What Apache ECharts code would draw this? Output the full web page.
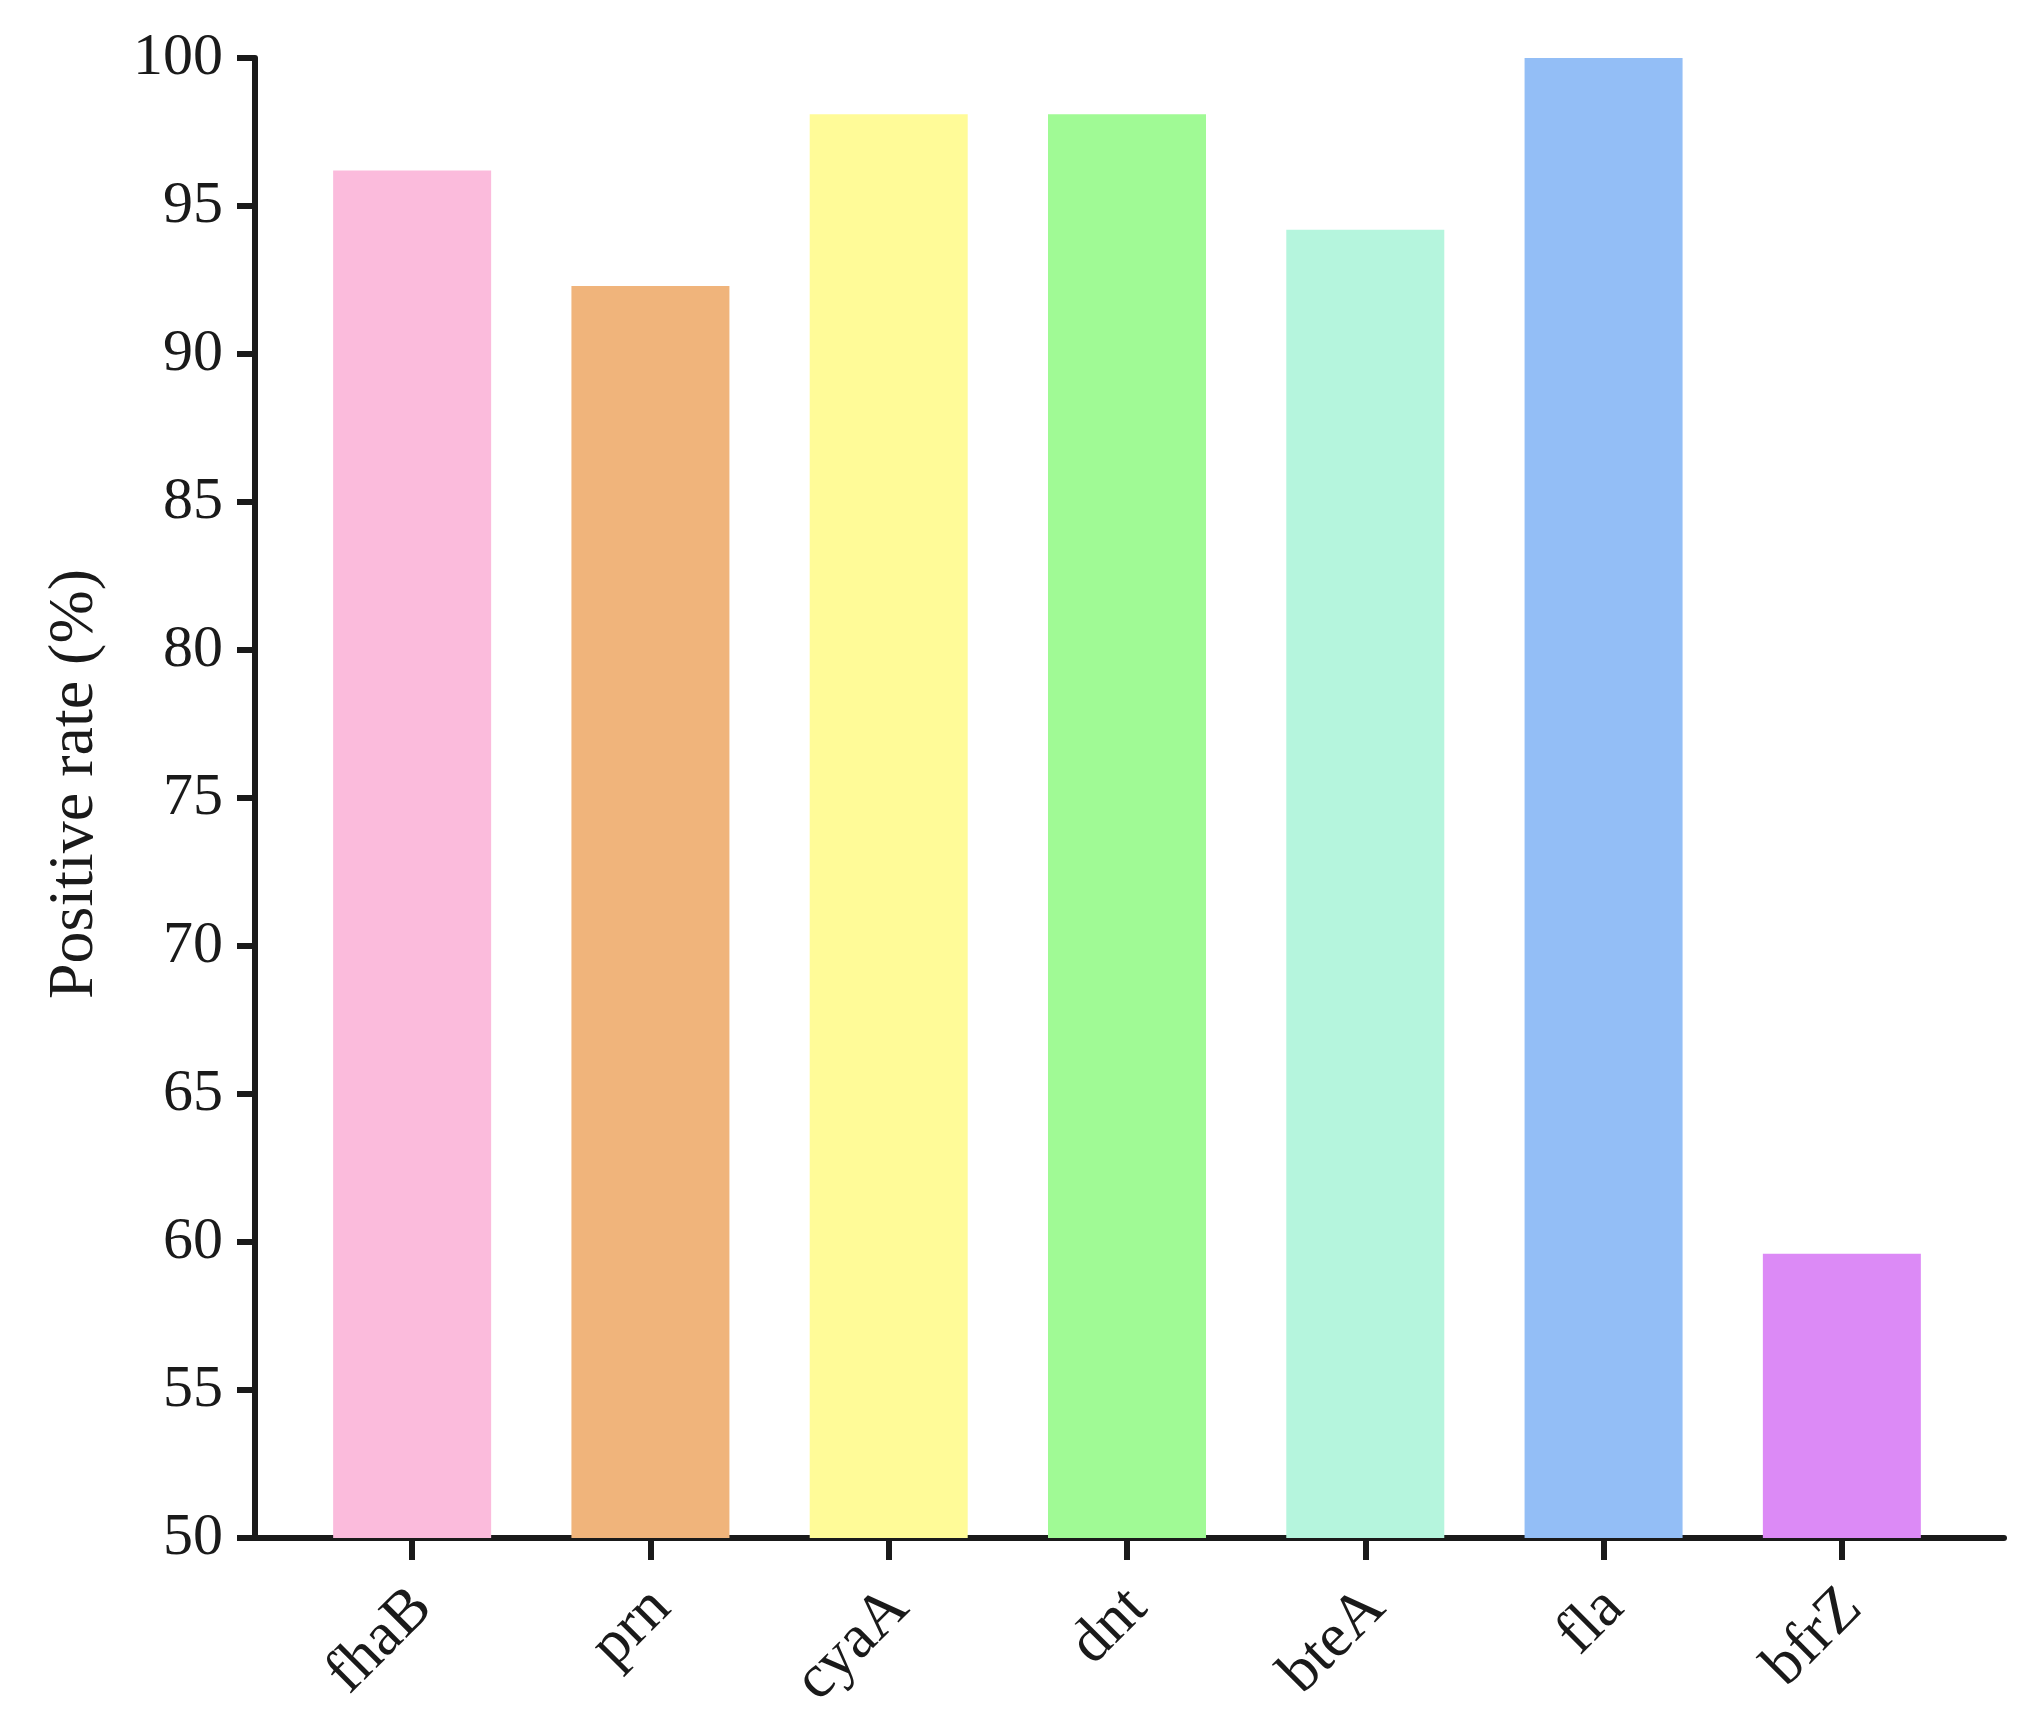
<!DOCTYPE html>
<html>
<head>
    <meta charset="utf-8">
    <title>Positive rate</title>
    <script src="https://cdn.jsdelivr.net/npm/echarts@6/dist/echarts.min.js"></script>
    <style>
        html, body { margin: 0; padding: 0; background: #fff; }
        #main { width: 2030px; height: 1735px; }
    </style>
</head>
<body>
<div id="main"></div>
<script type="text/javascript">
    // gene names and positive rates (%)
    var genes = ['fhaB', 'prn', 'cyaA', 'dnt', 'bteA', 'fla', 'bfrZ'];
    var rates = [96.2, 92.3, 98.1, 98.1, 94.2, 100, 59.6];
    var barColors = ['#FBBBDC', '#F0B47B', '#FFFB98', '#A0FA95', '#B5F5DD', '#93BEF6', '#DC8AF6'];
    var yMin = 50, yMax = 100, yStep = 5;

    var font = 'Liberation Serif';
    var ink = '#1a1a1a';

    var chart = echarts.init(document.getElementById('main'));
    var option = {
        backgroundColor: '#ffffff',
        animation: false,
        grid: [
            // bars
            { left: 293, right: 69, top: 58, bottom: 197 },
            // axis frame
            { left: 255, right: 26, top: 58, bottom: 197 }
        ],
        xAxis: [
            {
                type: 'category',
                gridIndex: 0,
                data: genes,
                axisLine: { show: false },
                axisTick: {
                    show: true,
                    alignWithLabel: true,
                    length: 22,
                    lineStyle: { color: ink, width: 6 }
                },
                axisLabel: {
                    rotate: 45,
                    margin: 50,
                    verticalAlign: 'top',
                    lineHeight: 30,
                    fontFamily: font,
                    fontSize: 62,
                    color: ink
                }
            },
            {
                type: 'value',
                gridIndex: 1,
                min: 0,
                max: 1,
                axisLine: { show: true, lineStyle: { color: ink, width: 6 } },
                axisTick: { show: false },
                axisLabel: { show: false },
                splitLine: { show: false }
            }
        ],
        yAxis: [
            {
                type: 'value',
                gridIndex: 0,
                min: yMin,
                max: yMax,
                show: false
            },
            {
                type: 'value',
                gridIndex: 1,
                min: yMin,
                max: yMax,
                interval: yStep,
                name: 'Positive rate (%)',
                nameLocation: 'middle',
                nameGap: 148,
                nameTextStyle: { fontFamily: font, fontSize: 64, color: ink, padding: [0, 0, 0, 28] },
                axisLine: { show: true, lineStyle: { color: ink, width: 6 } },
                axisTick: { show: true, length: 18, lineStyle: { color: ink, width: 6 } },
                axisLabel: { margin: 32, fontFamily: font, fontSize: 60, color: ink },
                splitLine: { show: false }
            }
        ],
        series: [{
            type: 'bar',
            xAxisIndex: 0,
            yAxisIndex: 0,
            barWidth: 158,
            data: rates.map(function (v, i) {
                return { value: v, itemStyle: { color: barColors[i] } };
            })
        }]
    };
    chart.setOption(option);
</script>
</body>
</html>
